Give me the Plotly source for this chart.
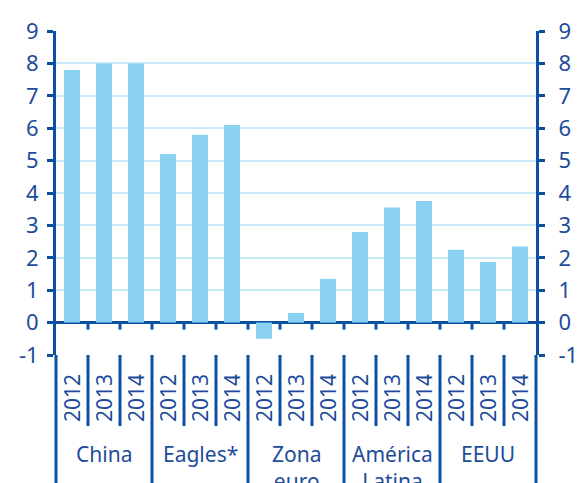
import plotly.graph_objects as go

groups = ["China", "Eagles*", "Zona<br>euro", "América<br>Latina", "EEUU"]
years = ["2012", "2013", "2014"]
values = [
    7.8, 8.0, 8.0,      # China
    5.2, 5.8, 6.1,      # Eagles*
    -0.5, 0.3, 1.35,    # Zona euro
    2.8, 3.55, 3.75,    # América Latina
    2.25, 1.87, 2.35,   # EEUU
]
y_ticks = [-1, 0, 1, 2, 3, 4, 5, 6, 7, 8, 9]
y_ticktext = ["-1", "0", "1", "2", "3", "4", "5", "6", "7", "8", "9"]

DARK = "#0b4ea2"
TEXT = "#1d4c9a"
BAR = "#8bd1f2"
GRID = "#c8e9f8"
FONT = "Noto Sans"

n = len(values)
xs = list(range(n))

fig = go.Figure()
fig.add_trace(go.Bar(x=xs, y=values, marker=dict(color=BAR, line=dict(width=0)),
                     hoverinfo="skip", showlegend=False))
fig.add_trace(go.Scatter(x=[0], y=[0], yaxis="y2", mode="markers",
                         marker=dict(opacity=0), hoverinfo="skip", showlegend=False))

W, H = 579, 483
ml, mr, mt, mb = 56, 43, 31, 128
plot_h = H - mt - mb

def px_to_paper_y(px):
    # px below the bottom of plot area -> negative paper
    return -px / plot_h

shapes = []
# small ticks down from zero line at category boundaries
for k in range(1, n):
    shapes.append(dict(type="line", xref="x", yref="y", x0=k - 0.5, x1=k - 0.5,
                       y0=0, y1=-7 / (plot_h / 10), line=dict(color=DARK, width=3)))
# separators below the plot
ng = len(groups)
per = len(years)
for k in range(0, n + 1):
    xp = k / n
    if k % per == 0:
        y1 = px_to_paper_y(mb + 2)
    else:
        y1 = px_to_paper_y(71)
    shapes.append(dict(type="line", xref="paper", yref="paper", x0=xp, x1=xp,
                       y0=0, y1=y1, line=dict(color=DARK, width=3)))

annotations = []
for i in range(n):
    annotations.append(dict(x=i, y=px_to_paper_y(43), xref="x", yref="paper",
                            text=years[i % per], textangle=-90, showarrow=False,
                            font=dict(family=FONT, size=21, color=TEXT),
                            xanchor="center", yanchor="middle"))
for g in range(ng):
    annotations.append(dict(x=g * per + 1, y=px_to_paper_y(83), xref="x", yref="paper",
                            text=groups[g], showarrow=False,
                            font=dict(family=FONT, size=21, color=TEXT),
                            xanchor="center", yanchor="top", align="center"))

axis_common = dict(range=[-1, 9], tickvals=y_ticks, ticktext=y_ticktext,
                   showline=True, linecolor=DARK, linewidth=3,
                   ticks="outside", ticklen=6, tickwidth=3, tickcolor=DARK,
                   tickfont=dict(family=FONT, size=22, color=TEXT), fixedrange=True,
                   automargin=False)

fig.update_layout(
    width=W, height=H,
    margin=dict(l=ml, r=mr, t=mt, b=mb, pad=0, autoexpand=False),
    paper_bgcolor="white", plot_bgcolor="white",
    bargap=0.5,
    xaxis=dict(range=[-0.5, n - 0.5], showticklabels=False, showgrid=False,
               zeroline=False, showline=False, ticks="", automargin=False),
    yaxis=dict(**axis_common, showgrid=True, gridcolor=GRID, gridwidth=2,
               zeroline=True, zerolinecolor=DARK, zerolinewidth=3,
               ticklabelstandoff=4),
    yaxis2=dict(**axis_common, overlaying="y", side="right", showgrid=False,
                zeroline=False, ticklabelstandoff=9),
    shapes=shapes,
    annotations=annotations,
)

fig.write_html("out.html")
